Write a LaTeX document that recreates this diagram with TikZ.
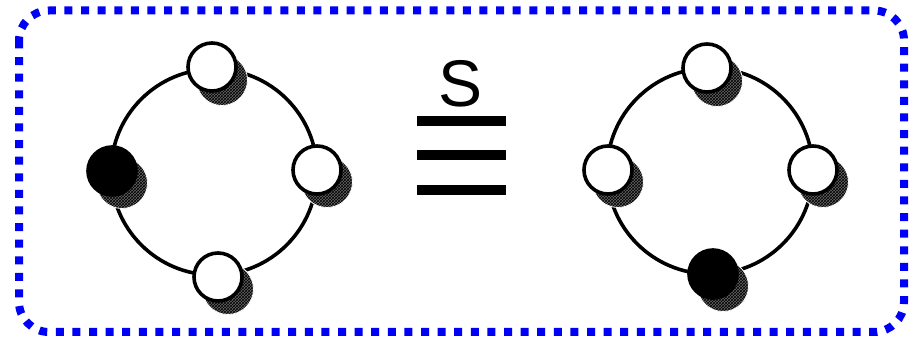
\documentclass[tikz,border=0pt]{standalone}
\usepackage{fontspec}
\setmainfont{Liberation Sans}
\usetikzlibrary{patterns}
\definecolor{frameblue}{RGB}{0,0,245}
\begin{document}
\begin{tikzpicture}[x=1pt,y=-1pt,
  ring/.style={circle,draw=black,line width=3.6pt,minimum size=206pt,inner sep=0pt},
  ballw/.style={circle,draw=black,fill=white,line width=3.6pt,minimum size=48pt,inner sep=0pt},
  ballb/.style={circle,draw=black,fill=black,line width=3.6pt,minimum size=48pt,inner sep=0pt},
  shade/.style={circle,draw=white,line width=0.8pt,preaction={fill=black!60},pattern=crosshatch,pattern color=black,minimum size=51pt,inner sep=0pt},
  bar/.style={line width=10pt},
  frame/.style={draw=frameblue,line width=8pt,dash pattern=on 8pt off 8.6pt,rounded corners=30pt}]
\useasboundingbox (0,0) rectangle (922,339);
\path[frame] (19,10.5) rectangle (904,332);
% left
\node[ring] (rL) at (214,172) {};
\node[shade] (sL1) at (222,80) {};
\node[shade] (sL2) at (122,183) {};
\node[shade] (sL3) at (327,182) {};
\node[shade] (sL4) at (228,289) {};
\node[ballw] (bL1) at (212,67) {};
\node[ballb] (bL2) at (112,171) {};
\node[ballw] (bL3) at (317,170) {};
\node[ballw] (bL4) at (218,277) {};
% right
\node[ring] (rR) at (710,171) {};
\node[shade] (sR1) at (717,81) {};
\node[shade] (sR2) at (618,182) {};
\node[shade] (sR3) at (823,182) {};
\node[shade] (sR4) at (723,286) {};
\node[ballw] (bR1) at (707,68) {};
\node[ballw] (bR2) at (608,170) {};
\node[ballw] (bR3) at (813,170) {};
\node[ballb] (bR4) at (713,274) {};
% equivalence
\node[font=\fontsize{66}{66}\selectfont,inner sep=0pt] (S) at (461,84) {S};
\draw[bar] (417,121) -- (506,121);
\draw[bar] (417,155) -- (506,155);
\draw[bar] (417,190) -- (506,190);
\end{tikzpicture}
\end{document}
